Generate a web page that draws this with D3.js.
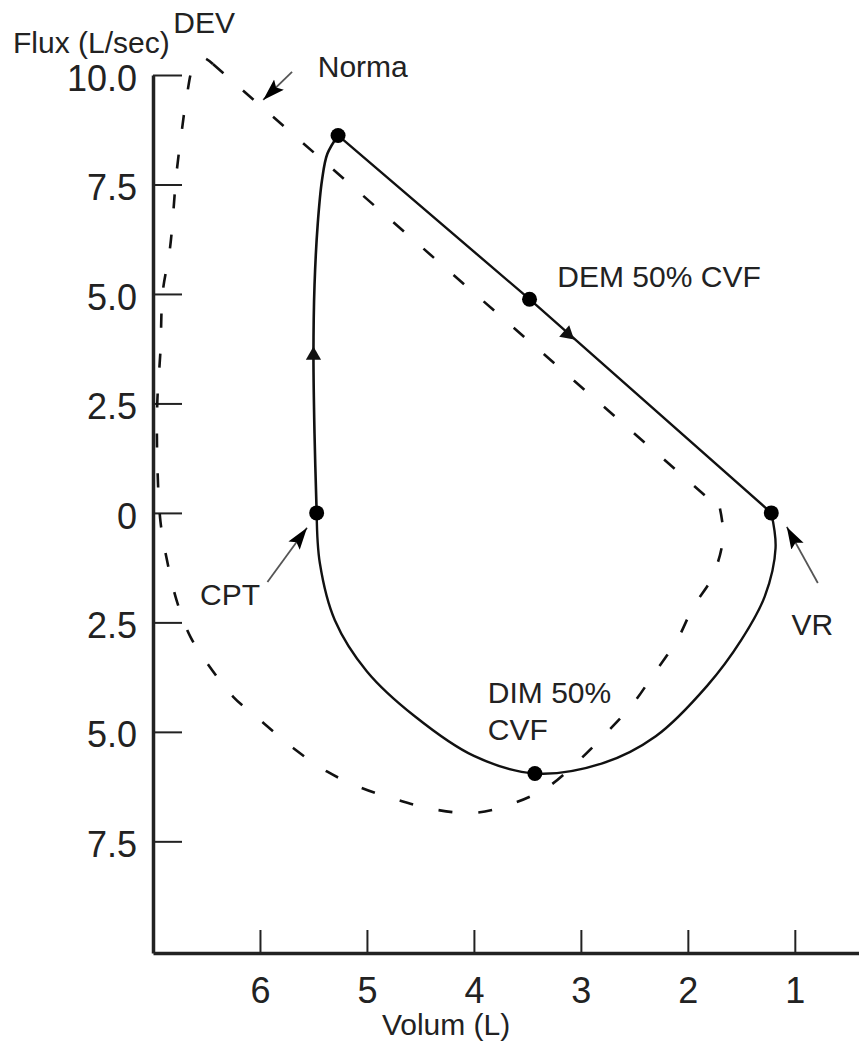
<!DOCTYPE html>
<html>
<head>
<meta charset="utf-8">
<script src="https://cdn.jsdelivr.net/npm/d3@7"></script>
<style>
  body { margin: 0; background: #fff; }
  svg { display: block; font-family: "Liberation Sans", Arial, sans-serif; }
</style>
</head>
<body>
<svg id="chart" width="859" height="1043"></svg>
<script>
// axis ticks (volume in L, flow in L/sec; negative flow = inspiration)
const volumeTicks = [6, 5, 4, 3, 2, 1];
const flowTicks = [10, 7.5, 5, 2.5, 0, -2.5, -5, -7.5];

// patient loop, [volume, flow]
const patientRise = [
    [5.47, 0], [5.49, 1.8], [5.50, 3.6], [5.49, 5.2], [5.46, 6.6],
    [5.42, 7.6], [5.37, 8.2], [5.27, 8.62]
];
const patientFall = [[5.27, 8.62], [3.48, 4.88], [1.22, 0]];
const patientInsp = [
    [1.22, 0], [1.18, -0.8], [1.28, -1.9], [1.50, -2.9], [1.82, -3.95],
    [2.30, -5.1], [2.80, -5.72], [3.43, -5.95], [4.00, -5.55], [4.55, -4.65],
    [5.00, -3.62], [5.30, -2.45], [5.44, -1.15], [5.47, 0]
];

// normal loop, [volume, flow]
const normalLoop = [
    [1.70, 0.1], [1.67, -0.55], [1.77, -1.46], [1.95, -2.15], [2.10, -2.90],
    [2.31, -3.65], [2.52, -4.38], [2.78, -5.07], [3.03, -5.68], [3.31, -6.26],
    [3.64, -6.64], [3.99, -6.85], [4.35, -6.78], [4.72, -6.55], [5.07, -6.26],
    [5.37, -5.91], [5.69, -5.37], [5.97, -4.79], [6.25, -4.20], [6.45, -3.58],
    [6.65, -2.83], [6.78, -1.99], [6.87, -1.07], [6.93, -0.20], [6.96, 1.21],
    [6.96, 2.51], [6.93, 3.72], [6.91, 5.02], [6.84, 6.07], [6.78, 7.76],
    [6.73, 8.74], [6.68, 9.59], [6.62, 10.20], [6.53, 10.39], [6.44, 10.25]
];
const normalFall = [[6.44, 10.25], [1.70, 0.1]];

// marked points on the patient loop
const keyPoints = [
    { name: 'CPT', v: 5.47, f: 0 },
    { name: 'DEV', v: 5.27, f: 8.62 },
    { name: 'DEM', v: 3.48, f: 4.88 },
    { name: 'VR', v: 1.22, f: 0 },
    { name: 'DIM', v: 3.43, f: -5.95 }
];

// direction markers along the patient loop: from -> to
const flowArrows = [
    { v: 5.50, f: 3.3, v2: 5.50, f2: 3.9 },
    { v: 3.20, f: 4.25, v2: 3.05, f2: 3.93 }
];

// text labels, anchored in chart units
const labels = [
    { text: 'DEV', v: 6.81, f: 10.96 },
    { text: 'Norma', v: 5.46, f: 9.95 },
    { text: 'DEM 50% CVF', v: 3.22, f: 5.16 },
    { text: 'CPT', v: 6.56, f: -2.10 },
    { text: 'VR', v: 1.03, f: -2.79 },
    { text: 'DIM 50%', v: 3.87, f: -4.34 },
    { text: 'CVF', v: 3.87, f: -5.18 }
];

// pointer arrows, from -> tip
const pointers = [
    { v: 5.70, f: 10.07, v2: 5.97, f2: 9.43 },
    { v: 5.93, f: -1.58, v2: 5.56, f2: -0.34 },
    { v: 0.785, f: -1.60, v2: 1.075, f2: -0.32 }
];

const svg = d3.select('#chart');

const x = d3.scaleLinear().domain([7, 0.4]).range([153, 859]);
const y = d3.scaleLinear().domain([-10.05, 10]).range([953, 75]);

const fmtFlow = d => d === 0 ? '0' : d3.format('.1f')(Math.abs(d));

// axes
const yAxis = svg.append('g')
    .classed('y-axis', true)
    .attr('transform', 'translate(' + x(7) + ',0)')
    .call(d3.axisLeft(y)
        .tickValues(flowTicks)
        .tickSizeInner(-29)
        .tickSizeOuter(0)
        .tickPadding(16)
        .tickFormat(fmtFlow))
    .attr('font-family', null)
    .attr('font-size', 36)
    .attr('color', '#222');
yAxis.select('.domain').attr('stroke-width', 3.5);
yAxis.selectAll('.tick line').attr('stroke-width', 2);
yAxis.selectAll('.tick text').attr('dy', '0.42em');

const xAxis = svg.append('g')
    .classed('x-axis', true)
    .attr('transform', 'translate(0,' + y(-10.05) + ')')
    .call(d3.axisBottom(x)
        .tickValues(volumeTicks)
        .tickSizeInner(-23)
        .tickSizeOuter(0)
        .tickPadding(24)
        .tickFormat(d3.format('d')))
    .attr('font-family', null)
    .attr('font-size', 36)
    .attr('color', '#222');
xAxis.select('.domain').attr('stroke-width', 3.5);
xAxis.selectAll('.tick line').attr('stroke-width', 2);

// axis titles
svg.append('text')
    .attr('x', 13)
    .attr('y', 53)
    .attr('font-size', 30)
    .attr('fill', '#222')
    .text('Flux (L/sec)');

svg.append('text')
    .attr('x', x(4.26))
    .attr('y', 1035)
    .attr('text-anchor', 'middle')
    .attr('font-size', 30)
    .attr('fill', '#222')
    .text('Volum (L)');

// curves
const smooth = d3.line().x(d => x(d[0])).y(d => y(d[1])).curve(d3.curveCatmullRom.alpha(0.5));
const straight = d3.line().x(d => x(d[0])).y(d => y(d[1]));

const curves = svg.append('g').attr('fill', 'none').attr('stroke', '#111');

curves.append('path').attr('d', smooth(normalLoop))
    .attr('stroke-width', 2.6).attr('stroke-dasharray', '14,26');
curves.append('path').attr('d', straight(normalFall))
    .attr('stroke-width', 2.6).attr('stroke-dasharray', '14,26');

curves.append('path').attr('d', smooth(patientRise)).attr('stroke-width', 2.6);
curves.append('path').attr('d', straight(patientFall)).attr('stroke-width', 2.4);
curves.append('path').attr('d', smooth(patientInsp)).attr('stroke-width', 2.4);

// direction markers
svg.append('g')
    .selectAll('path')
    .data(flowArrows)
    .join('path')
    .attr('d', d3.symbol(d3.symbolTriangle, 100))
    .attr('fill', '#111')
    .attr('transform', d => {
        const ang = Math.atan2(y(d.f2) - y(d.f), x(d.v2) - x(d.v)) * 180 / Math.PI;
        return 'translate(' + x((d.v + d.v2) / 2) + ',' + y((d.f + d.f2) / 2) + ') rotate(' + (ang + 90) + ')';
    });

// marked points
svg.append('g')
    .selectAll('circle')
    .data(keyPoints)
    .join('circle')
    .attr('cx', d => x(d.v))
    .attr('cy', d => y(d.f))
    .attr('r', 7.5)
    .attr('fill', '#000');

// pointer arrows
svg.append('defs').append('marker')
    .attr('id', 'head')
    .attr('markerUnits', 'userSpaceOnUse')
    .attr('markerWidth', 24)
    .attr('markerHeight', 16)
    .attr('refX', 22)
    .attr('refY', 7)
    .attr('orient', 'auto')
    .append('path')
    .attr('d', 'M0,0 L22,7 L0,14 L4,7 Z')
    .attr('fill', '#000');

svg.append('g')
    .selectAll('line')
    .data(pointers)
    .join('line')
    .attr('x1', d => x(d.v))
    .attr('y1', d => y(d.f))
    .attr('x2', d => x(d.v2))
    .attr('y2', d => y(d.f2))
    .attr('stroke', '#555')
    .attr('stroke-width', 1.8)
    .attr('marker-end', 'url(#head)');

// labels
svg.append('g')
    .selectAll('text')
    .data(labels)
    .join('text')
    .attr('x', d => x(d.v))
    .attr('y', d => y(d.f))
    .attr('font-size', 30)
    .attr('fill', '#222')
    .text(d => d.text);
</script>
</body>
</html>
